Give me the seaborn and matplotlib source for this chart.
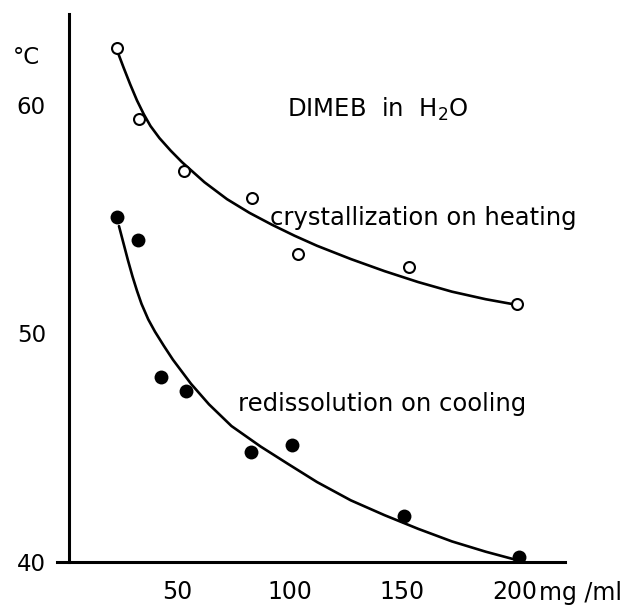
import matplotlib
matplotlib.use("Agg")
import matplotlib.pyplot as plt
import matplotlib.transforms as mtransforms
import seaborn as sns

# ---- data ----
heat_conc = [21, 31, 51, 81, 101.5, 151, 199]
heat_temp = [62.5, 59.4, 57.1, 55.95, 53.5, 52.9, 51.3]

cool_conc = [21, 30.5, 40.5, 52, 80.5, 99, 148.5, 200]
cool_temp = [55.1, 54.1, 48.1, 47.5, 44.8, 45.1, 42.0, 40.2]

# fitted curves as drawn in the reference
heat_fit_conc = [21.5, 24, 27, 30, 33, 36, 40, 45, 50, 60, 70, 80, 90, 100, 110,
                 125, 140, 155, 170, 185, 199]
heat_fit_temp = [62.3, 61.65, 60.9, 60.2, 59.6, 59.08, 58.55, 58.0, 57.5, 56.62, 55.88,
                 55.28, 54.76, 54.28, 53.84, 53.26, 52.73, 52.25, 51.83, 51.5, 51.25]

cool_fit_conc = [22, 24, 26, 28, 30, 32, 35, 38, 42, 46, 54, 62, 72, 85, 97, 110,
                 125, 140, 155, 170, 185, 199]
cool_fit_temp = [54.7, 53.95, 53.2, 52.5, 51.87, 51.3, 50.62, 50.08, 49.45, 48.85, 47.8,
                 46.9, 45.95, 45.05, 44.3, 43.5, 42.7, 42.05, 41.45, 40.9, 40.45, 40.08]

x_ticks = [50, 100, 150, 200]
x_tick_labels = ["50", "100", "150", "200"]
y_ticks = [40, 50, 60]
y_tick_labels = ["40", "50", "60"]

sns.set_style("white")
plt.rcParams["font.family"] = ["DejaVu Sans"]
plt.rcParams["text.color"] = "black"
plt.rcParams["xtick.color"] = "black"
plt.rcParams["ytick.color"] = "black"

fig = plt.figure(figsize=(6.27, 6.08), dpi=100)
ax = fig.add_axes([57.1 / 627, 46 / 608, 507.4 / 627, 548.4 / 608])

sns.lineplot(x=heat_fit_conc, y=heat_fit_temp, color="black", linewidth=1.9,
             sort=False, estimator=None, ax=ax, zorder=2)
sns.lineplot(x=cool_fit_conc, y=cool_fit_temp, color="black", linewidth=1.9,
             sort=False, estimator=None, ax=ax, zorder=2)
sns.scatterplot(x=heat_conc, y=heat_temp, marker="o", s=62, facecolor="white",
                edgecolor="black", linewidth=1.5, ax=ax, zorder=3)
sns.scatterplot(x=cool_conc, y=cool_temp, marker="o", s=100, color="black",
                edgecolor="black", linewidth=0, ax=ax, zorder=3)

ax.set_xlim(-5.5, 220)
ax.set_ylim(40, 64)

for s in ["top", "right"]:
    ax.spines[s].set_visible(False)
ax.spines["left"].set_position(("data", 0))
ax.spines["left"].set_linewidth(2.2)
ax.spines["bottom"].set_linewidth(2.2)
ax.spines["left"].set_color("black")
ax.spines["bottom"].set_color("black")

ax.set_yticks(y_ticks)
ax.set_yticklabels(y_tick_labels, fontsize=16.5, color="black")
ax.tick_params(axis="y", direction="out", length=8, width=1.4, pad=9)

ax.set_xticks(x_ticks)
ax.set_xticklabels(x_tick_labels, fontsize=17, color="black")
ax.tick_params(axis="x", direction="inout", length=6, width=1.2, pad=10)
shift = mtransforms.ScaledTranslation(-5 / 100, 0, fig.dpi_scale_trans)
for lab in ax.get_xticklabels():
    lab.set_transform(lab.get_transform() + shift)

ax.set_xlabel("")
ax.set_ylabel("")

ax.annotate("mg /ml", xy=(208.5, 40), xytext=(0, -13.5), textcoords="offset points",
            ha="left", va="top", fontsize=17, color="black")

fig.text(26 / 627, 1 - 57 / 608, "°C", ha="center", va="center", fontsize=16.5, color="black")

ax.text(96.7, 59.49, "DIMEB  in  H$_2$O", ha="left", va="baseline", fontsize=17.5, color="black")
ax.text(89.2, 54.75, "crystallization on heating", ha="left", va="baseline", fontsize=17.5, color="black")
ax.text(74.9, 46.62, "redissolution on cooling", ha="left", va="baseline", fontsize=17.5, color="black")

fig.savefig("out.png", dpi=100, facecolor="white")
